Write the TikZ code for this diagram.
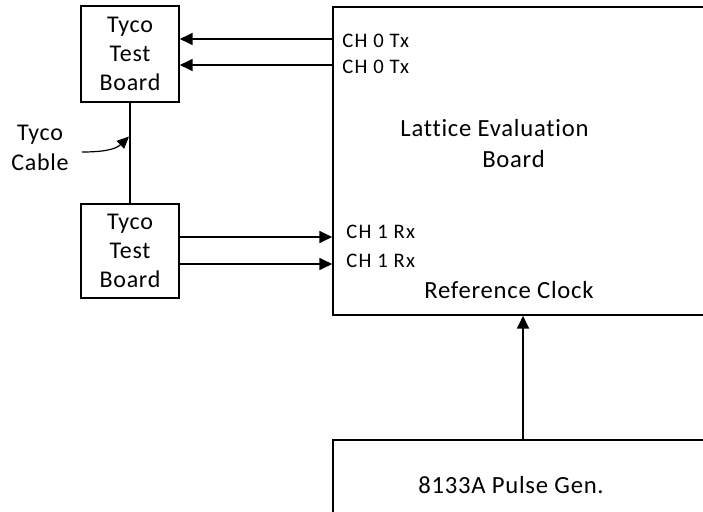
\documentclass[tikz,border=0pt]{standalone}
\usepackage{fontspec}
\setmainfont{Carlito}[LetterSpace=3,Ligatures=NoCommon]
\newfontfamily\chfont{Carlito}[LetterSpace=6,Ligatures=NoCommon]
\usetikzlibrary{arrows.meta,fit}
\begin{document}
\begin{tikzpicture}[x=0.75pt,y=-0.75pt,
  box/.style={draw,line width=1.3pt,inner sep=0pt},
  arr/.style={line width=1pt,-{Triangle[length=9.5pt,width=9pt]}},
  lbl/.style={inner sep=0pt,anchor=base west,font=\chfont\fontsize{15.5}{16}\selectfont},
  btxt/.style={align=center,font=\fontsize{18}{22}\selectfont},
  mtxt/.style={inner sep=0pt,anchor=base,font=\fontsize{18.5}{20}\selectfont}]
\useasboundingbox (0,0) rectangle (703,511);
\clip (0,0) rectangle (703,511);
% boxes
\node[box,fit={(81,6) (179,102)}] (tb1) {};
\node[btxt] at (tb1.center) {Tyco\\Test\\Board};
\node[box,fit={(81,204) (179,298)}] (tb2) {};
\node[btxt] at (tb2.center) {Tyco\\Test\\Board};
\node[box,fit={(333,7) (730,315)}] (leb) {};
\node[box,fit={(333,440) (730,540)}] (pg) {};
% labels
\node[lbl] (t0a) at (342,47) {CH 0 Tx};
\node[lbl] (t0b) at (342,73) {CH 0 Tx};
\node[lbl] (r1a) at (346,238) {CH 1 Rx};
\node[lbl] (r1b) at (346,267) {CH 1 Rx};
\node[mtxt] (lt1) at (494.5,136) {Lattice Evaluation};
\node[mtxt] (lt2) at (513.5,167) {Board};
\node[mtxt] (rc) at (509,298) {Reference Clock};
\node[mtxt] (pgl) at (511,493) {8133A Pulse Gen.};
\node[btxt,font=\fontsize{18}{23}\selectfont,inner sep=0pt] (cab) at (40,148) {Tyco\\Cable};
% connectors
\draw[arr] (leb.west |- 0,39) -- (tb1.east |- 0,39);
\draw[arr] (leb.west |- 0,65) -- (tb1.east |- 0,65);
\draw[arr] (tb2.east |- 0,237) -- (leb.west |- 0,237);
\draw[arr] (tb2.east |- 0,264) -- (leb.west |- 0,264);
\draw[line width=1.3pt] (tb1.south) -- (tb2.north);
\coordinate (cs) at (82,152);
\coordinate (ce) at (129,136.5);
\draw[line width=0.9pt,-{Triangle[length=9pt,width=8pt]}] (cs) .. controls (105,152) and (116,149) .. (ce);
\draw[line width=1.3pt,-{Triangle[length=9.5pt,width=9pt]}] (pg.north -| 523,0) -- (leb.south -| 523,0);
\end{tikzpicture}
\end{document}
